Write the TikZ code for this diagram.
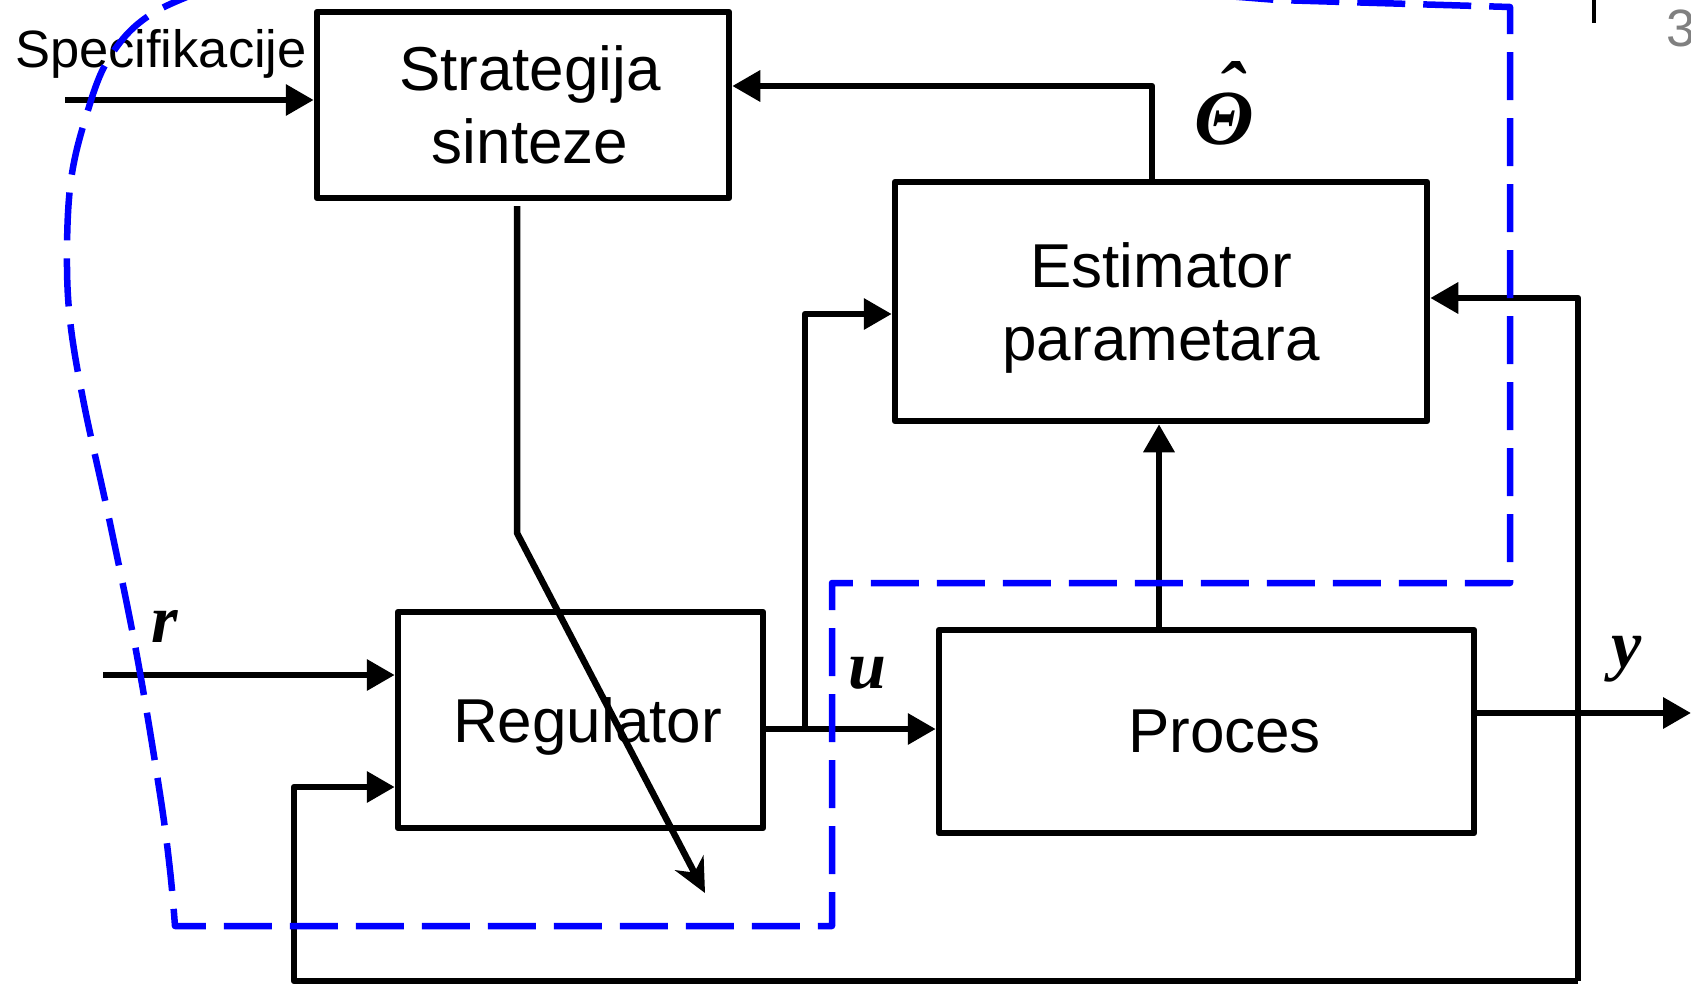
\documentclass[tikz,border=0pt]{standalone}
\usepackage{fontspec}
\setmainfont{Liberation Sans}
\newfontfamily\lblfont{Liberation Serif}
\usetikzlibrary{arrows.meta}
\definecolor{pureblue}{RGB}{0,0,255}
\definecolor{pagegray}{RGB}{128,128,128}
\begin{document}
\begin{tikzpicture}[x=1pt,y=-1pt,
  box/.style={draw, line width=6.5pt, line join=round, rectangle, align=center, inner sep=0pt, text depth=0pt, font=\fontsize{62}{73}\selectfont},
  conn/.style={line width=6.5pt, line join=round},
  arr/.style={conn, -{Triangle[length=28pt,width=30pt]}},
  barb/.style={conn, -{Stealth[length=34pt,width=32pt,inset=11pt]}},
  lbl/.style={font=\fontsize{68}{68}\selectfont\lblfont\bfseries\itshape, inner sep=0pt},
  plain/.style={font=\fontsize{52.5}{60}\selectfont, inner sep=0pt},
  bnd/.style={draw=pureblue, line width=6.5pt, dash pattern=on 48pt off 18pt}]
\useasboundingbox (0,0) rectangle (1691,987);
\clip (0,0) rectangle (1691,987);

% blocks
\node[box, minimum width=412pt, minimum height=186pt] (strat) at (523,105) {\hspace*{14pt}Strategija\\\hspace*{14pt}sinteze};
\node[box, minimum width=532pt, minimum height=239pt] (est) at (1161,301.5) {Estimator\\parametara};
\node[box, minimum width=365pt, minimum height=216pt] (reg) at (580.5,720) {\hspace*{14pt}Regulator};
\node[box, minimum width=535pt, minimum height=203pt] (proc) at (1206.5,731.5) {\hspace*{36pt}Proces};

% labels
\node[plain, anchor=base] (spec) at (161,68) {Specifikacije};
\node[lbl, anchor=base] (rl) at (165,642) {r};
\node[lbl, anchor=base] (ul) at (867,688) {u};
\node[lbl, anchor=base] (yl) at (1627,667) {y};
\node[lbl, anchor=base, font=\fontsize{78}{78}\selectfont\lblfont\bfseries\itshape] (theta) at (1224,145) {\rlap{\kern0.3em\raisebox{0.36em}{ˆ}}Θ};
\node[plain, anchor=base west, text=pagegray] (pnum) at (1666,47) {3};

% coordinates
\coordinate (specin) at (65,100);
\coordinate (thtop) at (1152,86);
\coordinate (bend) at (517,533);
\coordinate (diagend) at (705,893);
\coordinate (rin) at (103,675);
\coordinate (uy) at (805,729);
\coordinate (ue) at (805,314);
\coordinate (pe) at (1159,630);
\coordinate (yout) at (1691,713);
\coordinate (fbt) at (1578,298);
\coordinate (fbb) at (1578,981);
\coordinate (fbl) at (294,981);
\coordinate (fbr) at (294,787);
\coordinate (bartop) at (1594,0);
\coordinate (barbot) at (1594,23);

% connectors
\draw[arr] (specin) -- (strat.west |- specin);
\draw[arr] (est.north -| thtop) |- (strat.east |- thtop);
\draw[barb] ([yshift=-5pt]strat.south -| bend) -- (bend) -- (diagend);
\draw[arr] (rin) -- (reg.west |- rin);
\draw[arr] (reg.east |- uy) -- (proc.west |- uy);
\draw[arr] (uy) -- (ue) -- (est.west |- ue);
\draw[arr] (proc.north -| pe) -- (est.south -| pe);
\draw[arr] (proc.east |- yout) -- (yout);
\draw[arr] (fbb) -- (fbt) -- (est.east |- fbt);
\draw[arr] (fbb) -- (fbl) -- (fbr) -- (reg.west |- fbr);
\draw[line width=4pt] (bartop) -- (barbot);

% blue dashed boundary
\draw[bnd, line join=round] plot[smooth, tension=0.6] coordinates {(330,-60) (230,-20) (150,15) (108,60) (85,120) (71,180) (67,250) (70,320) (84,404) (110,523) (137,656) (160,794) (170,870) (175,926)}
  -- (832,926) -- (832,583) -- (1510,583) -- (1510,7) -- (1277,0) -- (900,-30);
\end{tikzpicture}
\end{document}
